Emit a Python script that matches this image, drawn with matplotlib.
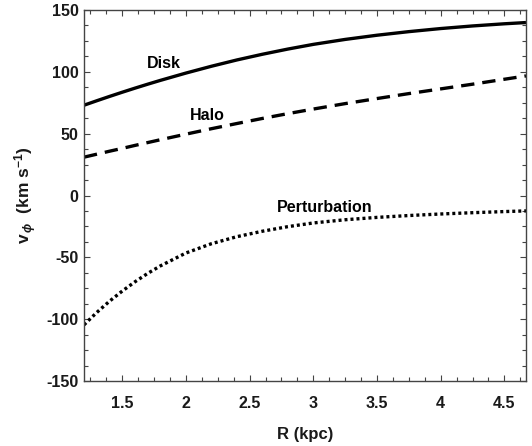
import matplotlib
matplotlib.use("Agg")
import matplotlib.pyplot as plt
from matplotlib.ticker import MultipleLocator

plt.rcParams['font.family'] = ['Liberation Sans', 'DejaVu Sans']
plt.rcParams['font.weight'] = 'bold'
plt.rcParams['axes.unicode_minus'] = False
plt.rcParams['mathtext.fontset'] = 'custom'
plt.rcParams['mathtext.rm'] = 'Liberation Sans:bold'
plt.rcParams['mathtext.bf'] = 'Liberation Sans:bold'
plt.rcParams['mathtext.it'] = 'Liberation Sans:italic'

# radius grid (kpc) and velocity curves (km/s)
R = [1.2, 1.3, 1.4, 1.5, 1.6, 1.7, 1.8, 2.0, 2.2, 2.4, 2.6, 2.8, 3.0,
     3.25, 3.5, 3.75, 4.0, 4.25, 4.5, 4.67]
disk = [73.0, 76.6, 80.1, 83.5, 86.8, 90.0, 93.1, 99.0, 104.5, 109.6, 114.2,
        118.4, 122.2, 126.2, 129.6, 132.5, 135.0, 137.1, 138.85, 139.85]
halo = [31.0, 33.4, 35.8, 38.1, 40.5, 42.8, 45.1, 49.6, 54.0, 58.2, 62.3,
        66.2, 69.9, 74.3, 78.4, 82.4, 86.2, 90.0, 94.0, 96.7]
pert = [-104.6, -94.6, -85.5, -77.3, -69.8, -63.0, -56.9, -46.5, -39.0,
        -33.3, -28.9, -25.2, -22.2, -19.6, -17.7, -16.2, -14.95, -13.9,
        -13.0, -12.45]

xticks = [1.5, 2, 2.5, 3, 3.5, 4, 4.5]
yticks = [-150, -100, -50, 0, 50, 100, 150]

fig = plt.figure(figsize=(5.32, 4.46), dpi=100)
ax = fig.add_axes([84 / 532, 1 - 381 / 446, 442 / 532, 371 / 446])

ax.plot(R, disk, color='black', lw=2.4, solid_capstyle='butt')
ax.plot(R, halo, color='black', lw=2.4, linestyle=(0, (4, 2.4)))
ax.plot(R, pert, color='black', lw=2.4, linestyle=(0, (0.9, 0.9)))

ax.text(1.83, 107, 'Disk', ha='center', va='center', fontsize=11.5,
        fontweight='bold')
ax.text(2.17, 65, 'Halo', ha='center', va='center', fontsize=11.5,
        fontweight='bold')
ax.text(3.09, -9.5, 'Perturbation', ha='center', va='center', fontsize=11.5,
        fontweight='bold')

ax.set_xlim(1.2, 4.67)
ax.set_ylim(-150, 150)
ax.set_xticks(xticks)
ax.set_xticklabels([f'{t:g}' for t in xticks])
ax.set_yticks(yticks)
ax.xaxis.set_minor_locator(MultipleLocator(0.125))
ax.yaxis.set_minor_locator(MultipleLocator(12.5))

edge = '#444444'
for s in ax.spines.values():
    s.set_color(edge)
    s.set_linewidth(1.0)
ax.tick_params(which='both', direction='in', top=True, right=True,
               color=edge, labelcolor='#1a1a1a', labelsize=11.5)
ax.tick_params(which='major', length=4.5, width=0.8)
ax.tick_params(which='minor', length=3, width=0.8)
ax.tick_params(axis='x', which='major', pad=10.5)
ax.tick_params(axis='y', which='major', pad=4)

ax.set_xlabel('R (kpc)', fontsize=12, fontweight='bold', labelpad=12,
              color='#1a1a1a')
ax.set_ylabel(r'$\mathbf{v}_{\,\phi}$  (km s$^{\mathbf{-1}}$)', fontsize=12.5,
              fontweight='bold', labelpad=5, color='#1a1a1a')

fig.savefig('out.png', dpi=100)
